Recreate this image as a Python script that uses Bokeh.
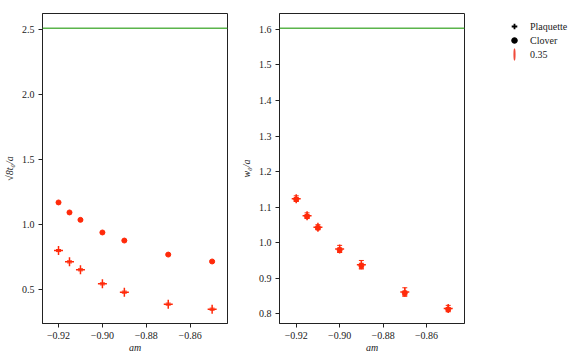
import numpy as np
from bokeh.plotting import figure
from bokeh.layouts import row
from bokeh.models import (Range1d, FixedTicker, CustomJSTickFormatter, Span, Whisker,
                          TeeHead, ColumnDataSource, Legend, LegendItem)
from bokeh.embed import file_html
from bokeh.resources import INLINE

# ---- data ----
am = [-0.92, -0.915, -0.91, -0.90, -0.89, -0.87, -0.85]
t0_plaquette = [0.802, 0.715, 0.654, 0.546, 0.482, 0.390, 0.351]
t0_plaquette_err = [0.008, 0.008, 0.008, 0.008, 0.008, 0.008, 0.008]
t0_clover = [1.172, 1.095, 1.038, 0.941, 0.879, 0.771, 0.718]
t0_clover_err = [0.005, 0.005, 0.005, 0.005, 0.005, 0.005, 0.005]
w0_plaquette = [1.1236, 1.0756, 1.0433, 0.982, 0.9375, 0.8606, 0.814]
w0_plaquette_err = [0.008, 0.008, 0.007, 0.010, 0.012, 0.012, 0.009]
w0_clover = [1.1216, 1.0736, 1.0413, 0.979, 0.9345, 0.8576, 0.812]
w0_clover_err = [0.005, 0.005, 0.005, 0.006, 0.007, 0.006, 0.005]
t0_reference = 2.512
w0_reference = 1.6036
x_ticks = [-0.92, -0.90, -0.88, -0.86]
t0_ticks = [0.5, 1.0, 1.5, 2.0, 2.5]
w0_ticks = [0.8, 0.9, 1.0, 1.1, 1.2, 1.3, 1.4, 1.5, 1.6]
legend_labels = ["Plaquette", "Clover", "0.35"]

RED = "#ff2a0a"
GREEN = "#5ab44b"
FONT = "serif"


def style(p, yticks, font):
    p.xaxis.ticker = FixedTicker(ticks=x_ticks)
    p.yaxis.ticker = FixedTicker(ticks=yticks)
    p.xaxis.formatter = CustomJSTickFormatter(code="return tick.toFixed(2).replace('-', '\u2212');")
    p.yaxis.formatter = CustomJSTickFormatter(code="return tick.toFixed(1);")
    p.xgrid.visible = False
    p.ygrid.visible = False
    p.outline_line_color = "#222222"
    p.outline_line_width = 1
    p.axis.axis_line_color = "#222222"
    p.axis.major_tick_line_color = "#222222"
    p.axis.major_tick_out = 4
    p.axis.major_tick_in = 0
    p.axis.minor_tick_line_color = None
    p.axis.major_label_text_font = font
    p.axis.major_label_text_font_size = "10px"
    p.axis.major_label_text_color = "#222222"
    p.axis.axis_label_text_font = font
    p.axis.axis_label_text_font_size = "10px"
    p.axis.axis_label_text_font_style = "italic"
    p.axis.axis_label_text_color = "#222222"
    p.axis.major_label_standoff = 4
    p.yaxis.axis_label_standoff = 4
    p.xaxis.axis_label_standoff = 0
    p.background_fill_color = "white"
    p.border_fill_color = "white"


def add_series(p, x, y, err, marker, size, lw):
    src = ColumnDataSource(dict(x=x, y=y, lo=[a - e for a, e in zip(y, err)],
                                hi=[a + e for a, e in zip(y, err)]))
    w = Whisker(base="x", lower="lo", upper="hi", source=src, line_color=RED, line_width=1,
                upper_head=TeeHead(size=5, line_color=RED, line_width=1),
                lower_head=TeeHead(size=5, line_color=RED, line_width=1))
    p.add_layout(w)
    if marker == "cross":
        p.scatter("x", "y", source=src, marker="cross", size=size, line_color=RED, line_width=lw)
    else:
        p.scatter("x", "y", source=src, marker="circle", size=size, fill_color=RED, line_color=RED)


# ---- left panel ----
p1 = figure(frame_width=185, frame_height=310, output_backend="svg", toolbar_location=None,
            x_range=Range1d(-0.9273, -0.843), y_range=Range1d(0.241, 2.625),
            min_border_left=37, min_border_right=10, min_border_top=13, min_border_bottom=32,
            x_axis_label="am", y_axis_label="√8t₀/a")
style(p1, t0_ticks, FONT)
p1.add_layout(Span(location=t0_reference, dimension="width", line_color=GREEN, line_width=1.5))
add_series(p1, am, t0_plaquette, t0_plaquette_err, "cross", 9, 1.5)
add_series(p1, am, t0_clover, t0_clover_err, "circle", 5, 1)

# ---- right panel ----
p2 = figure(frame_width=185, frame_height=310, output_backend="svg", toolbar_location=None,
            x_range=Range1d(-0.9277, -0.8425), y_range=Range1d(0.772, 1.645),
            min_border_left=37, min_border_right=111, min_border_top=13, min_border_bottom=32,
            x_axis_label="am", y_axis_label="w₀/a")
style(p2, w0_ticks, FONT)
p2.add_layout(Span(location=w0_reference, dimension="width", line_color=GREEN, line_width=1.5))
add_series(p2, am, w0_plaquette, w0_plaquette_err, "cross", 9, 1.5)
add_series(p2, am, w0_clover, w0_clover_err, "circle", 5, 1)

# legend-only renderers (NaN points, shown only in the legend)
r_plaq = p2.scatter(x="x", y="y", source=ColumnDataSource(dict(x=[np.nan], y=[np.nan])),
                    marker="cross", size=8, line_color="black", line_width=1.8)
r_clov = p2.scatter(x="x", y="y", source=ColumnDataSource(dict(x=[np.nan], y=[np.nan])),
                    marker="circle", size=5, fill_color="black", line_color="black")
r_err = p2.ellipse(x="x", y="y", source=ColumnDataSource(dict(x=[np.nan], y=[np.nan])),
                   width=1, height=12, width_units="screen", height_units="screen",
                   fill_color="#f04a3a", line_color="#f04a3a", line_width=1.2)
legend = Legend(items=[LegendItem(label=legend_labels[0], renderers=[r_plaq]),
                       LegendItem(label=legend_labels[1], renderers=[r_clov]),
                       LegendItem(label=legend_labels[2], renderers=[r_err])],
                location=(42, 262), padding=0, margin=0, spacing=0,
                glyph_width=16, glyph_height=14, label_standoff=8,
                label_text_font=FONT, label_text_font_size="10px", label_text_color="#222222",
                border_line_alpha=0, background_fill_alpha=0)
p2.add_layout(legend, "right")

layout = row(p1, p2)
open("out.html", "w").write(file_html(layout, INLINE))
